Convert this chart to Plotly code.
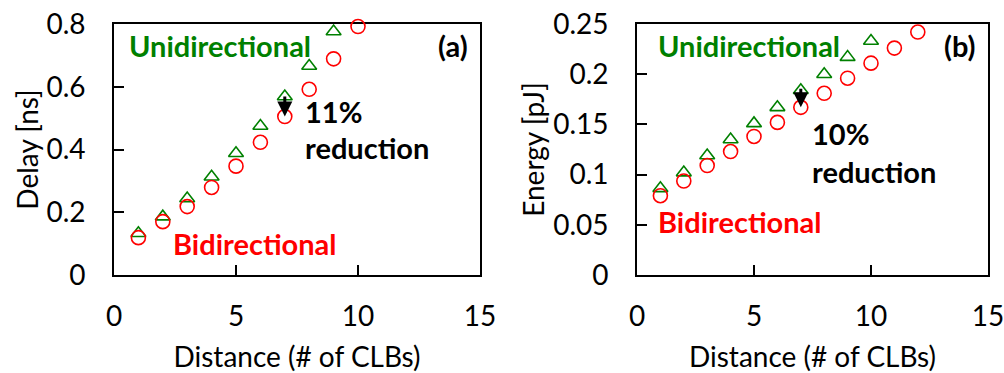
import plotly.graph_objects as go

# Data
dist_uni_delay = [1, 2, 3, 4, 5, 6, 7, 8, 9]
delay_uni = [0.133, 0.186, 0.244, 0.313, 0.388, 0.475, 0.569, 0.666, 0.776]
dist_bi_delay = [1, 2, 3, 4, 5, 6, 7, 8, 9, 10]
delay_bi = [0.119, 0.170, 0.218, 0.279, 0.347, 0.423, 0.505, 0.592, 0.689, 0.792]

dist_uni_energy = [1, 2, 3, 4, 5, 6, 7, 8, 9, 10]
energy_uni = [0.0863, 0.102, 0.119, 0.135, 0.151, 0.167, 0.184, 0.200, 0.217, 0.233]
dist_bi_energy = [1, 2, 3, 4, 5, 6, 7, 8, 9, 10, 11, 12]
energy_bi = [0.079, 0.0936, 0.109, 0.123, 0.138, 0.152, 0.167, 0.181, 0.196, 0.211, 0.226, 0.242]

x_ticks = [0, 5, 10, 15]
delay_ticks = [0, 0.2, 0.4, 0.6, 0.8]
delay_ticktext = ["0", "0.2", "0.4", "0.6", "0.8"]
energy_ticks = [0, 0.05, 0.1, 0.15, 0.2, 0.25]
energy_ticktext = ["0", "0.05", "0.1", "0.15", "0.2", "0.25"]

GREEN = "#008000"
RED = "#FF0000"
FONT = "Lato"
TICK_SIZE = 28
TITLE_SIZE = 28
ANN_SIZE = 29

fig = go.Figure()

tri = dict(symbol="triangle-up-open", size=13, color=GREEN, line=dict(width=1.6, color=GREEN))
circ = dict(symbol="circle-open", size=14, color=RED, line=dict(width=1.6, color=RED))

fig.add_trace(go.Scatter(x=dist_uni_delay, y=delay_uni, mode="markers", marker=tri,
                         xaxis="x", yaxis="y", showlegend=False, cliponaxis=False))
fig.add_trace(go.Scatter(x=dist_bi_delay, y=delay_bi, mode="markers", marker=circ,
                         xaxis="x", yaxis="y", showlegend=False, cliponaxis=False))
fig.add_trace(go.Scatter(x=dist_uni_energy, y=energy_uni, mode="markers", marker=tri,
                         xaxis="x2", yaxis="y2", showlegend=False, cliponaxis=False))
fig.add_trace(go.Scatter(x=dist_bi_energy, y=energy_bi, mode="markers", marker=circ,
                         xaxis="x2", yaxis="y2", showlegend=False, cliponaxis=False))

ydom = [1 - 275 / 373, 1 - 24 / 373]
axis_common = dict(showgrid=False, zeroline=False, showline=True, linecolor="black",
                   linewidth=1.6, mirror=True, ticks="inside", ticklen=10, tickwidth=1.6,
                   tickcolor="black", automargin=False, ticklabeloverflow="allow",
                   layer="below traces",
                   tickfont=dict(family=FONT, size=TICK_SIZE, color="black"))

fig.update_layout(
    width=1004, height=373,
    margin=dict(l=0, r=0, t=0, b=0),
    paper_bgcolor="white", plot_bgcolor="white",
    font=dict(family=FONT, color="black"),
    xaxis=dict(domain=[114 / 1004, 480 / 1004], range=[0, 15], tickvals=x_ticks,
               anchor="y", ticklabelstandoff=16,
               title=dict(text="Distance (# of CLBs)", font=dict(family=FONT, size=TITLE_SIZE), standoff=18),
               **axis_common),
    yaxis=dict(domain=ydom, range=[0, 0.8], tickvals=delay_ticks, ticktext=delay_ticktext,
               anchor="x", ticklabelstandoff=21,
               title=dict(text="Delay [ns]", font=dict(family=FONT, size=TITLE_SIZE), standoff=0),
               **axis_common),
    xaxis2=dict(domain=[637 / 1004, 988 / 1004], range=[0, 15], tickvals=x_ticks,
                anchor="y2", ticklabelstandoff=16,
                title=dict(text="Distance (# of CLBs)", font=dict(family=FONT, size=TITLE_SIZE), standoff=18),
                **axis_common),
    yaxis2=dict(domain=ydom, range=[0, 0.25], tickvals=energy_ticks, ticktext=energy_ticktext,
                anchor="x2", ticklabelstandoff=21,
                title=dict(text="Energy [pJ]", font=dict(family=FONT, size=TITLE_SIZE), standoff=0),
                **axis_common),
)

bold = lambda c, s=ANN_SIZE: dict(family=FONT, size=s, color=c, weight="bold")
LS = -2  # shift for left-anchored labels
RS = 0   # shift for right-anchored labels

annots = [
    # left panel
    dict(x=0.61, y=0.733, xref="x", yref="y", text="<b>Unidirectional</b>", xanchor="left",
         yanchor="middle", showarrow=False, font=bold(GREEN), xshift=LS),
    dict(x=2.42, y=0.102, xref="x", yref="y", text="<b>Bidirectional</b>", xanchor="left",
         yanchor="middle", showarrow=False, font=bold(RED), xshift=LS),
    dict(x=14.6, y=0.733, xref="x", yref="y", text="<b>(a)</b>", xanchor="right",
         yanchor="middle", showarrow=False, font=bold("black"), xshift=RS),
    dict(x=7.83, y=0.52, xref="x", yref="y", text="<b>11%</b>", xanchor="left",
         yanchor="middle", showarrow=False, font=bold("black"), xshift=LS),
    dict(x=7.83, y=0.405, xref="x", yref="y", text="<b>reduction</b>", xanchor="left",
         yanchor="middle", showarrow=False, font=bold("black"), xshift=LS),
    dict(x=7, y=0.505, ax=7, ay=0.574, xref="x", yref="y", axref="x", ayref="y", text="",
         showarrow=True, arrowhead=2, arrowsize=1, arrowwidth=3, arrowcolor="black"),
    # right panel
    dict(x=0.9, y=0.229, xref="x2", yref="y2", text="<b>Unidirectional</b>", xanchor="left",
         yanchor="middle", showarrow=False, font=bold(GREEN), xshift=LS),
    dict(x=0.9, y=0.0528, xref="x2", yref="y2", text="<b>Bidirectional</b>", xanchor="left",
         yanchor="middle", showarrow=False, font=bold(RED), xshift=LS),
    dict(x=14.57, y=0.229, xref="x2", yref="y2", text="<b>(b)</b>", xanchor="right",
         yanchor="middle", showarrow=False, font=bold("black"), xshift=RS),
    dict(x=7.48, y=0.1414, xref="x2", yref="y2", text="<b>10%</b>", xanchor="left",
         yanchor="middle", showarrow=False, font=bold("black"), xshift=LS),
    dict(x=7.48, y=0.1026, xref="x2", yref="y2", text="<b>reduction</b>", xanchor="left",
         yanchor="middle", showarrow=False, font=bold("black"), xshift=LS),
    dict(x=7, y=0.167, ax=7, ay=0.187, xref="x2", yref="y2", axref="x2", ayref="y2", text="",
         showarrow=True, arrowhead=2, arrowsize=1, arrowwidth=3, arrowcolor="black"),
]
fig.update_layout(annotations=annots)

fig.write_html("out.html", config={"displayModeBar": False},
               post_script="document.body.style.margin='0';")
